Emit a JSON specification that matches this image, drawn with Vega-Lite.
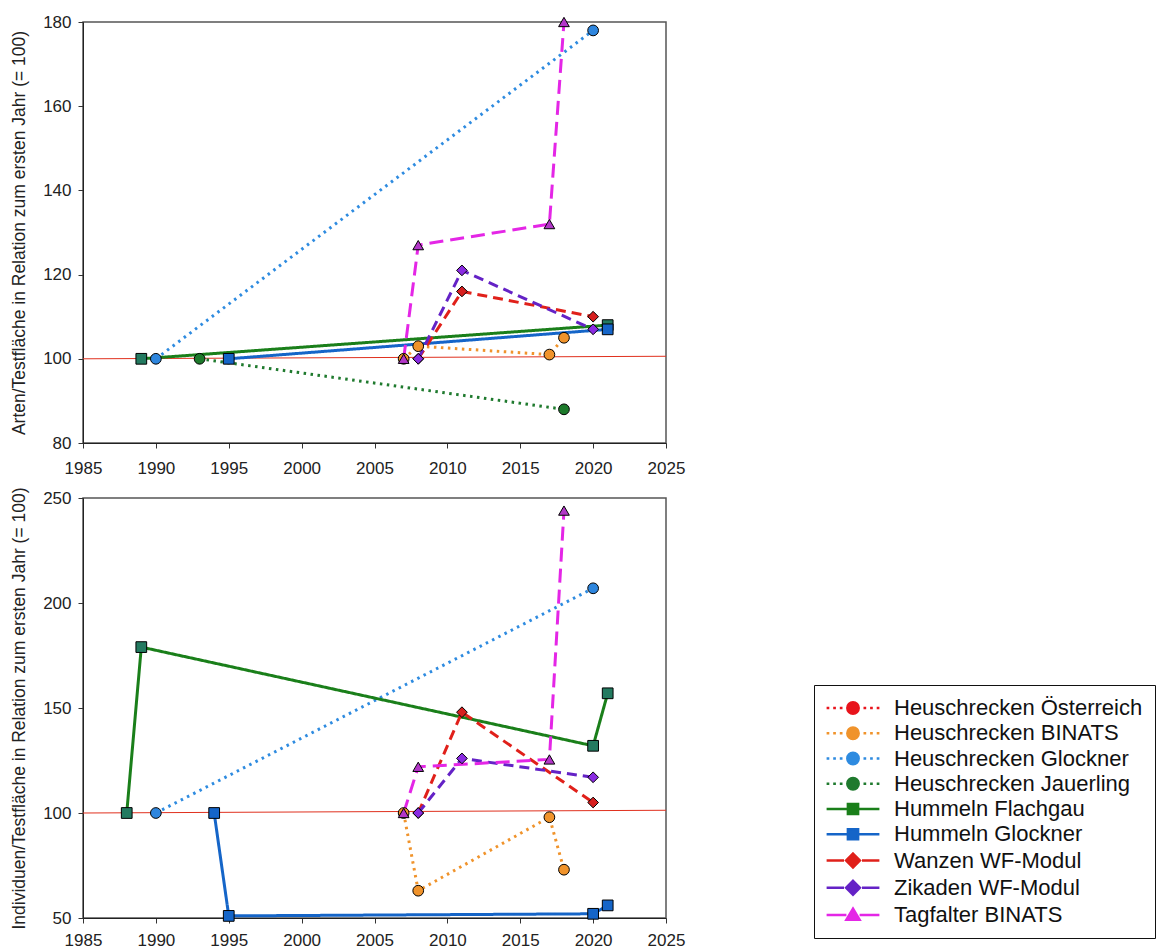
{
  "$schema": "https://vega.github.io/schema/vega-lite/v6.json",
  "background": "white",
  "padding": {"left": 9, "top": 12, "right": 5, "bottom": 5},
  "spacing": 9,
  "config": {
    "font": "Liberation Sans",
    "view": {"stroke": "#555", "strokeWidth": 1.5},
    "axis": {
      "labelFont": "Liberation Sans", "labelFontSize": 17, "labelColor": "#222",
      "titleFont": "Liberation Sans", "titleFontSize": 17.5, "titleFontWeight": "normal", "titleColor": "#222",
      "tickColor": "#333", "domainColor": "#222", "tickSize": 5, "grid": false, "labelFlush": false
    }
  },
  "datasets": {
    "arten": [
      {"Gruppe": "Heuschrecken BINATS", "Jahr": 2007, "Wert": 100},
      {"Gruppe": "Heuschrecken BINATS", "Jahr": 2008, "Wert": 103},
      {"Gruppe": "Heuschrecken BINATS", "Jahr": 2017, "Wert": 101},
      {"Gruppe": "Heuschrecken BINATS", "Jahr": 2018, "Wert": 105},
      {"Gruppe": "Heuschrecken Glockner", "Jahr": 1990, "Wert": 100},
      {"Gruppe": "Heuschrecken Glockner", "Jahr": 2020, "Wert": 178},
      {"Gruppe": "Heuschrecken Jauerling", "Jahr": 1993, "Wert": 100},
      {"Gruppe": "Heuschrecken Jauerling", "Jahr": 2018, "Wert": 88},
      {"Gruppe": "Hummeln Flachgau", "Jahr": 1989, "Wert": 100},
      {"Gruppe": "Hummeln Flachgau", "Jahr": 2021, "Wert": 108},
      {"Gruppe": "Hummeln Glockner", "Jahr": 1995, "Wert": 100},
      {"Gruppe": "Hummeln Glockner", "Jahr": 2021, "Wert": 107},
      {"Gruppe": "Wanzen WF-Modul", "Jahr": 2008, "Wert": 100},
      {"Gruppe": "Wanzen WF-Modul", "Jahr": 2011, "Wert": 116},
      {"Gruppe": "Wanzen WF-Modul", "Jahr": 2020, "Wert": 110},
      {"Gruppe": "Zikaden WF-Modul", "Jahr": 2008, "Wert": 100},
      {"Gruppe": "Zikaden WF-Modul", "Jahr": 2011, "Wert": 121},
      {"Gruppe": "Zikaden WF-Modul", "Jahr": 2020, "Wert": 107},
      {"Gruppe": "Tagfalter BINATS", "Jahr": 2007, "Wert": 100},
      {"Gruppe": "Tagfalter BINATS", "Jahr": 2008, "Wert": 127},
      {"Gruppe": "Tagfalter BINATS", "Jahr": 2017, "Wert": 132},
      {"Gruppe": "Tagfalter BINATS", "Jahr": 2018, "Wert": 180}
    ],
    "individuen": [
      {"Gruppe": "Heuschrecken BINATS", "Jahr": 2007, "Wert": 100},
      {"Gruppe": "Heuschrecken BINATS", "Jahr": 2008, "Wert": 63},
      {"Gruppe": "Heuschrecken BINATS", "Jahr": 2017, "Wert": 98},
      {"Gruppe": "Heuschrecken BINATS", "Jahr": 2018, "Wert": 73},
      {"Gruppe": "Heuschrecken Glockner", "Jahr": 1990, "Wert": 100},
      {"Gruppe": "Heuschrecken Glockner", "Jahr": 2020, "Wert": 207},
      {"Gruppe": "Hummeln Flachgau", "Jahr": 1988, "Wert": 100},
      {"Gruppe": "Hummeln Flachgau", "Jahr": 1989, "Wert": 179},
      {"Gruppe": "Hummeln Flachgau", "Jahr": 2020, "Wert": 132},
      {"Gruppe": "Hummeln Flachgau", "Jahr": 2021, "Wert": 157},
      {"Gruppe": "Hummeln Glockner", "Jahr": 1994, "Wert": 100},
      {"Gruppe": "Hummeln Glockner", "Jahr": 1995, "Wert": 51},
      {"Gruppe": "Hummeln Glockner", "Jahr": 2020, "Wert": 52},
      {"Gruppe": "Hummeln Glockner", "Jahr": 2021, "Wert": 56},
      {"Gruppe": "Wanzen WF-Modul", "Jahr": 2008, "Wert": 100},
      {"Gruppe": "Wanzen WF-Modul", "Jahr": 2011, "Wert": 148},
      {"Gruppe": "Wanzen WF-Modul", "Jahr": 2020, "Wert": 105},
      {"Gruppe": "Zikaden WF-Modul", "Jahr": 2008, "Wert": 100},
      {"Gruppe": "Zikaden WF-Modul", "Jahr": 2011, "Wert": 126},
      {"Gruppe": "Zikaden WF-Modul", "Jahr": 2020, "Wert": 117},
      {"Gruppe": "Tagfalter BINATS", "Jahr": 2007, "Wert": 100},
      {"Gruppe": "Tagfalter BINATS", "Jahr": 2008, "Wert": 122},
      {"Gruppe": "Tagfalter BINATS", "Jahr": 2017, "Wert": 125.5},
      {"Gruppe": "Tagfalter BINATS", "Jahr": 2018, "Wert": 244}
    ],
    "refArten": [
      {"Jahr": 1985, "Wert": 100},
      {"Jahr": 2025, "Wert": 100.6}
    ],
    "refIndividuen": [
      {"Jahr": 1985, "Wert": 100},
      {"Jahr": 2025, "Wert": 101.3}
    ]
  },
  "resolve": {"legend": {"color": "independent"}},
  "vconcat": [
    {
      "width": 583,
      "height": 421,
      "layer": [
        {
          "data": {"name": "refArten"},
          "mark": {"type": "line", "color": "#e0301e", "strokeWidth": 1},
          "encoding": {
            "x": {"field": "Jahr", "type": "quantitative", "scale": {"domain": [1985, 2025], "nice": false, "zero": false}, "axis": {"values": [1985, 1990, 1995, 2000, 2005, 2010, 2015, 2020, 2025], "format": "d", "title": null, "labelPadding": 12}},
            "y": {"field": "Wert", "type": "quantitative", "scale": {"domain": [80, 180], "nice": false, "zero": false}, "axis": {"values": [80, 100, 120, 140, 160, 180], "title": "Arten/Testfläche in Relation zum ersten Jahr (= 100)", "labelPadding": 7, "titlePadding": 14}}
          }
        },
        {
          "data": {"name": "arten"},
          "mark": {"type": "line", "strokeWidth": 3},
          "encoding": {
            "x": {"field": "Jahr", "type": "quantitative"},
            "y": {"field": "Wert", "type": "quantitative"},
            "color": {"field": "Gruppe", "type": "nominal", "legend": null,
              "scale": {"domain": ["Heuschrecken Österreich", "Heuschrecken BINATS", "Heuschrecken Glockner", "Heuschrecken Jauerling", "Hummeln Flachgau", "Hummeln Glockner", "Wanzen WF-Modul", "Zikaden WF-Modul", "Tagfalter BINATS"],
                "range": ["#e8141c", "#f0932b", "#2e8be0", "#1f7a2e", "#1a7f1a", "#1565c8", "#e0201a", "#6422c6", "#e426e6"]}},
            "strokeDash": {"field": "Gruppe", "type": "nominal", "legend": null,
              "scale": {"domain": ["Heuschrecken Österreich", "Heuschrecken BINATS", "Heuschrecken Glockner", "Heuschrecken Jauerling", "Hummeln Flachgau", "Hummeln Glockner", "Wanzen WF-Modul", "Zikaden WF-Modul", "Tagfalter BINATS"],
                "range": [[2.5, 4.5], [2.5, 4.5], [2.5, 4.5], [2.5, 4.5], [1, 0], [1, 0], [10, 6], [10, 6], [14, 7]]}}
          }
        },
        {
          "data": {"name": "arten"},
          "mark": {"type": "point", "filled": true, "stroke": "black", "strokeWidth": 1, "size": 115, "opacity": 1},
          "encoding": {
            "x": {"field": "Jahr", "type": "quantitative"},
            "y": {"field": "Wert", "type": "quantitative"},
            "fill": {"field": "Gruppe", "type": "nominal", "legend": null,
              "scale": {"domain": ["Heuschrecken Österreich", "Heuschrecken BINATS", "Heuschrecken Glockner", "Heuschrecken Jauerling", "Hummeln Flachgau", "Hummeln Glockner", "Wanzen WF-Modul", "Zikaden WF-Modul", "Tagfalter BINATS"],
                "range": ["#e8141c", "#f0932b", "#2e86de", "#1d7a2b", "#237a60", "#1565c8", "#d61f1f", "#8a2be2", "#b236c8"]}},
            "shape": {"field": "Gruppe", "type": "nominal", "legend": null,
              "scale": {"domain": ["Heuschrecken Österreich", "Heuschrecken BINATS", "Heuschrecken Glockner", "Heuschrecken Jauerling", "Hummeln Flachgau", "Hummeln Glockner", "Wanzen WF-Modul", "Zikaden WF-Modul", "Tagfalter BINATS"],
                "range": ["circle", "circle", "circle", "circle", "square", "square", "diamond", "diamond", "triangle-up"]}}
          }
        }
      ]
    },
    {
      "width": 583,
      "height": 420,
      "layer": [
        {
          "data": {"name": "refIndividuen"},
          "mark": {"type": "line", "color": "#e0301e", "strokeWidth": 1},
          "encoding": {
            "x": {"field": "Jahr", "type": "quantitative", "scale": {"domain": [1985, 2025], "nice": false, "zero": false}, "axis": {"values": [1985, 1990, 1995, 2000, 2005, 2010, 2015, 2020, 2025], "format": "d", "title": null, "labelPadding": 9}},
            "y": {"field": "Wert", "type": "quantitative", "scale": {"domain": [50, 250], "nice": false, "zero": false}, "axis": {"values": [50, 100, 150, 200, 250], "title": "Individuen/Testfläche in Relation zum ersten Jahr (= 100)", "labelPadding": 7, "titlePadding": 14}}
          }
        },
        {
          "data": {"name": "individuen"},
          "mark": {"type": "line", "strokeWidth": 3},
          "encoding": {
            "x": {"field": "Jahr", "type": "quantitative"},
            "y": {"field": "Wert", "type": "quantitative"},
            "color": {"field": "Gruppe", "type": "nominal",
              "scale": {"domain": ["Heuschrecken Österreich", "Heuschrecken BINATS", "Heuschrecken Glockner", "Heuschrecken Jauerling", "Hummeln Flachgau", "Hummeln Glockner", "Wanzen WF-Modul", "Zikaden WF-Modul", "Tagfalter BINATS"],
                "range": ["#e8141c", "#f0932b", "#2e8be0", "#1f7a2e", "#1a7f1a", "#1565c8", "#e0201a", "#6422c6", "#e426e6"]},
              "legend": {
                "orient": "none", "legendX": 731, "legendY": 187, "title": null,
                "strokeColor": "#111", "fillColor": "white", "padding": 12,
                "labelFont": "Liberation Sans", "labelFontSize": 22, "labelColor": "#111", "labelLimit": 400,
                "labelOffset": 30, "symbolOffset": 16, "rowPadding": 3.25, "symbolSize": 144, "symbolStrokeWidth": 2.5,
                "symbolType": {"expr": "['M-4.4,0H-3.95M-3.3,0H-2.85M-2.2,0H-1.75M1.75,0H2.2M2.85,0H3.3M3.95,0H4.4M-0.95,0A0.95,0.95,0,1,0,0.95,0A0.95,0.95,0,1,0,-0.95,0Z','M-4.4,0H-3.95M-3.3,0H-2.85M-2.2,0H-1.75M1.75,0H2.2M2.85,0H3.3M3.95,0H4.4M-0.95,0A0.95,0.95,0,1,0,0.95,0A0.95,0.95,0,1,0,-0.95,0Z','M-4.4,0H-3.95M-3.3,0H-2.85M-2.2,0H-1.75M1.75,0H2.2M2.85,0H3.3M3.95,0H4.4M-0.95,0A0.95,0.95,0,1,0,0.95,0A0.95,0.95,0,1,0,-0.95,0Z','M-4.4,0H-3.95M-3.3,0H-2.85M-2.2,0H-1.75M1.75,0H2.2M2.85,0H3.3M3.95,0H4.4M-0.95,0A0.95,0.95,0,1,0,0.95,0A0.95,0.95,0,1,0,-0.95,0Z','M-4.4,0H-0.85M0.85,0H4.4M-0.85,-0.85H0.85V0.85H-0.85Z','M-4.4,0H-0.85M0.85,0H4.4M-0.85,-0.85H0.85V0.85H-0.85Z','M-4.4,0H-1.5M1.5,0H4.4M0,-1.15L1.15,0L0,1.15L-1.15,0Z','M-4.4,0H-1.5M1.5,0H4.4M0,-1.15L1.15,0L0,1.15L-1.15,0Z','M-4.4,0H-1.1M1.1,0H4.4M0,-1.05L1.1,0.8H-1.1Z'][datum.index]"},
                "symbolFillColor": {"expr": "scale('color', datum.value)"}
              }},
            "strokeDash": {"field": "Gruppe", "type": "nominal", "legend": null,
              "scale": {"domain": ["Heuschrecken Österreich", "Heuschrecken BINATS", "Heuschrecken Glockner", "Heuschrecken Jauerling", "Hummeln Flachgau", "Hummeln Glockner", "Wanzen WF-Modul", "Zikaden WF-Modul", "Tagfalter BINATS"],
                "range": [[2.5, 4.5], [2.5, 4.5], [2.5, 4.5], [2.5, 4.5], [1, 0], [1, 0], [10, 6], [10, 6], [14, 7]]}}
          }
        },
        {
          "data": {"name": "individuen"},
          "mark": {"type": "point", "filled": true, "stroke": "black", "strokeWidth": 1, "size": 115, "opacity": 1},
          "encoding": {
            "x": {"field": "Jahr", "type": "quantitative"},
            "y": {"field": "Wert", "type": "quantitative"},
            "fill": {"field": "Gruppe", "type": "nominal", "legend": null,
              "scale": {"domain": ["Heuschrecken Österreich", "Heuschrecken BINATS", "Heuschrecken Glockner", "Heuschrecken Jauerling", "Hummeln Flachgau", "Hummeln Glockner", "Wanzen WF-Modul", "Zikaden WF-Modul", "Tagfalter BINATS"],
                "range": ["#e8141c", "#f0932b", "#2e86de", "#1d7a2b", "#237a60", "#1565c8", "#d61f1f", "#8a2be2", "#b236c8"]}},
            "shape": {"field": "Gruppe", "type": "nominal", "legend": null,
              "scale": {"domain": ["Heuschrecken Österreich", "Heuschrecken BINATS", "Heuschrecken Glockner", "Heuschrecken Jauerling", "Hummeln Flachgau", "Hummeln Glockner", "Wanzen WF-Modul", "Zikaden WF-Modul", "Tagfalter BINATS"],
                "range": ["circle", "circle", "circle", "circle", "square", "square", "diamond", "diamond", "triangle-up"]}}
          }
        }
      ]
    }
  ]
}
